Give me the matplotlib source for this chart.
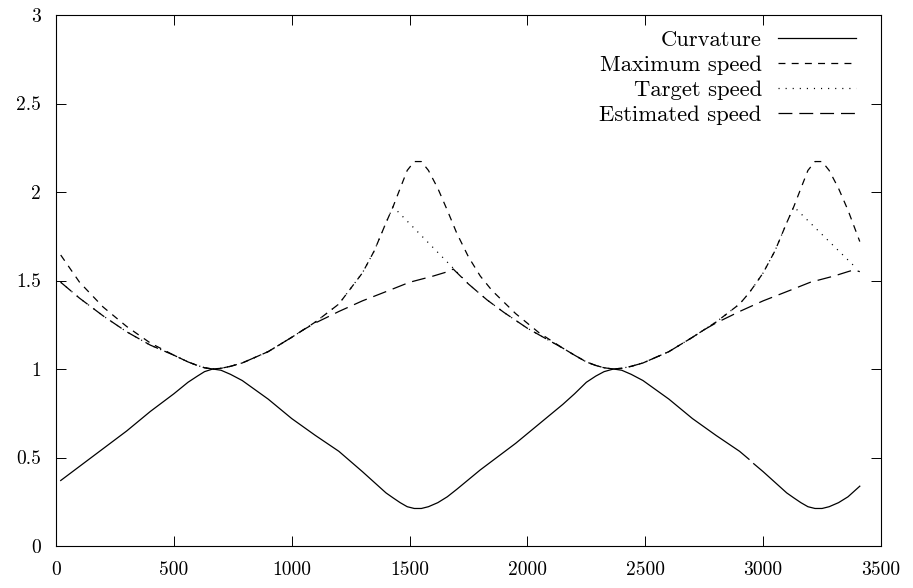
import numpy as np
import matplotlib
matplotlib.use("Agg")
import matplotlib.pyplot as plt
from matplotlib.ticker import FuncFormatter

plt.rcParams['font.family'] = ['cmr10', 'DejaVu Serif']
plt.rcParams['axes.formatter.use_mathtext'] = True
plt.rcParams['lines.scale_dashes'] = False

# curvature (nan = the small gap near x = 2950)
curv_x = [20, 100, 200, 300, 400, 500, 560, 600, 630, 665, 700, 740, 790, 900,
          1000, 1100, 1200, 1300, 1350, 1400, 1430, 1460, 1490, 1520, 1550, 1580,
          1620, 1660, 1700, 1750, 1800, 1850, 1950, 2050, 2150, 2200, 2250, 2290,
          2325, 2365, 2400, 2440, 2490, 2600, 2700, 2800, 2900, 2940, 2950, 2960,
          3000, 3050, 3100, 3130, 3160, 3190, 3220, 3250, 3280, 3320, 3360, 3410]
curv_y = [0.37, 0.45, 0.55, 0.65, 0.76, 0.86, 0.925, 0.96, 0.985, 1.0, 0.993,
          0.97, 0.935, 0.83, 0.72, 0.625, 0.535, 0.42, 0.36, 0.30, 0.272, 0.245,
          0.222, 0.212, 0.212, 0.222, 0.245, 0.278, 0.32, 0.375, 0.43, 0.48, 0.58,
          0.69, 0.80, 0.86, 0.925, 0.96, 0.985, 1.0, 0.993, 0.97, 0.935, 0.83,
          0.72, 0.625, 0.535, 0.49, np.nan, 0.465, 0.42, 0.36, 0.30, 0.272, 0.245,
          0.222, 0.212, 0.212, 0.222, 0.245, 0.278, 0.338]

max_x = [20, 100, 200, 300, 400, 500, 560, 600, 630, 665, 700, 740, 790, 900,
         1000, 1100, 1200, 1300, 1350, 1400, 1430, 1460, 1490, 1520, 1550, 1580,
         1620, 1660, 1700, 1750, 1800, 1850, 1950, 2050, 2150, 2200, 2250, 2290,
         2325, 2365, 2400, 2440, 2490, 2600, 2700, 2800, 2900, 2940, 2960, 3000,
         3050, 3100, 3130, 3160, 3190, 3220, 3250, 3280, 3320, 3360, 3410]
max_y = [1.644, 1.49, 1.35, 1.24, 1.147, 1.078, 1.04, 1.02, 1.007, 1.0, 1.004,
         1.015, 1.034, 1.098, 1.179, 1.265, 1.367, 1.543, 1.667, 1.826, 1.917,
         2.02, 2.122, 2.172, 2.172, 2.122, 2.02, 1.897, 1.768, 1.633, 1.525,
         1.443, 1.313, 1.204, 1.118, 1.078, 1.04, 1.02, 1.007, 1.0, 1.004, 1.015,
         1.034, 1.098, 1.179, 1.265, 1.367, 1.429, 1.466, 1.543, 1.667, 1.826,
         1.917, 2.02, 2.122, 2.172, 2.172, 2.122, 2.02, 1.897, 1.72]

target_x = [20, 100, 200, 300, 400, 500, 560, 600, 630, 665, 700, 740, 790, 900,
            1000, 1100, 1200, 1300, 1350, 1400, 1430, 1685, 1750, 1829, 1900, 2000,
            2100, 2150, 2200, 2250, 2290, 2325, 2365, 2400, 2440, 2490, 2600, 2700,
            2800, 2900, 2940, 2960, 3000, 3050, 3100, 3130, 3395]
target_y = [1.49, 1.40, 1.30, 1.21, 1.135, 1.078, 1.04, 1.02, 1.007, 1.0, 1.004,
            1.015, 1.034, 1.098, 1.179, 1.265, 1.367, 1.543, 1.667, 1.826, 1.917,
            1.57, 1.48, 1.39, 1.32, 1.23, 1.155, 1.118, 1.078, 1.04, 1.02, 1.007,
            1.0, 1.004, 1.015, 1.034, 1.098, 1.179, 1.265, 1.367, 1.429, 1.466,
            1.543, 1.667, 1.826, 1.917, 1.57]

est_x = [20, 100, 200, 300, 400, 500, 560, 600, 630, 665, 700, 740, 790, 900,
         1000, 1050, 1100, 1162, 1200, 1300, 1417, 1500, 1600, 1672, 1685, 1750,
         1829, 1900, 2000, 2100, 2150, 2200, 2250, 2290, 2325, 2365, 2400, 2440,
         2490, 2600, 2700, 2750, 2800, 2862, 2900, 3000, 3117, 3200, 3300, 3360,
         3385, 3410]
est_y = [1.49, 1.40, 1.30, 1.21, 1.135, 1.078, 1.04, 1.02, 1.007, 1.0, 1.004,
         1.015, 1.034, 1.098, 1.179, 1.222, 1.26, 1.30, 1.325, 1.385, 1.446, 1.49,
         1.525, 1.554, 1.565, 1.48, 1.39, 1.32, 1.23, 1.155, 1.118, 1.078, 1.04,
         1.02, 1.007, 1.0, 1.004, 1.015, 1.034, 1.098, 1.179, 1.222, 1.26, 1.30,
         1.325, 1.385, 1.446, 1.49, 1.525, 1.55, 1.56, 1.55]

fig = plt.figure(figsize=(9.13, 5.88), dpi=100)
ax = fig.add_axes([56 / 913, 1 - 546 / 588, 825 / 913, 531 / 588])

lw = 0.9
ax.plot(curv_x, curv_y, color='black', lw=lw, label='Curvature')
ax.plot(max_x, max_y, color='black', lw=lw, dashes=(5, 4.5), label='Maximum speed')
ax.plot(target_x, target_y, color='black', lw=lw, dashes=(0.8, 4.3), label='Target speed')
ax.plot(est_x, est_y, color='black', lw=lw, dashes=(10, 5), label='Estimated speed')

ax.set_xlim(0, 3500)
ax.set_ylim(0, 3)
ax.set_xticks(np.arange(0, 3501, 500))
ax.set_yticks(np.arange(0, 3.01, 0.5))
ax.xaxis.set_major_formatter(FuncFormatter(lambda v, p: '%g' % v))
ax.yaxis.set_major_formatter(FuncFormatter(lambda v, p: '%g' % v))
ax.tick_params(direction='in', length=7.5, width=0.7, top=True, right=True,
               labelsize=14, pad=11)
for s in ax.spines.values():
    s.set_linewidth(0.8)

leg = ax.legend(loc='upper right', bbox_to_anchor=(0.9806, 0.988), frameon=False,
                markerfirst=False, fontsize=16.3, handlelength=3.45,
                handletextpad=0.71, labelspacing=0.22, borderaxespad=0.0)
for t in leg.get_texts():
    t.set_ha('right')

fig.savefig('out.png', dpi=100)
